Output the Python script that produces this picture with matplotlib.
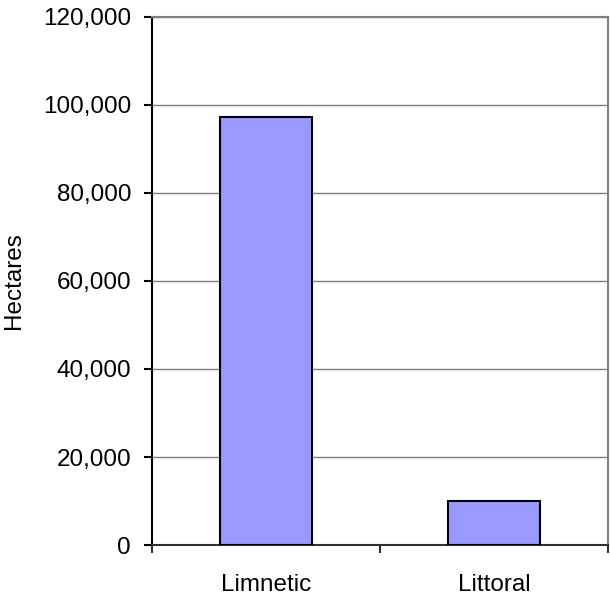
import matplotlib.pyplot as plt
import matplotlib.ticker as ticker

plt.rcParams['font.family'] = ['Liberation Sans', 'DejaVu Sans']

zones = ['Limnetic', 'Littoral']
hectares = [97300, 10100]

fig = plt.figure(figsize=(6.1, 5.97), dpi=100)
ax = fig.add_axes([0.249, 0.087, 0.7477, 0.885])

ax.bar(range(len(zones)), hectares, width=0.405, color='#9999ff',
       edgecolor='black', linewidth=1.5, zorder=3)

ax.set_xlim(-0.5, len(zones) - 0.5)
ax.set_ylim(0, 120000)
ax.yaxis.set_major_locator(ticker.MultipleLocator(20000))
ax.yaxis.set_major_formatter(ticker.StrMethodFormatter('{x:,.0f}'))
ax.grid(axis='y', color='#808080', linewidth=1.0, zorder=0)

ax.set_xticks(range(len(zones)))
ax.set_xticklabels(zones)
ax.set_xticks([-0.5, 0.5, 1.5], minor=True)
ax.tick_params(axis='x', which='major', length=0, pad=21, labelsize=17.5)
ax.tick_params(axis='x', which='minor', length=6, width=1.5, color='#303030')
ax.tick_params(axis='y', length=6, width=1.5, pad=9, labelsize=17.5)

ax.spines['left'].set_color('black')
ax.spines['left'].set_linewidth(1.5)
ax.spines['bottom'].set_color('#303030')
ax.spines['bottom'].set_linewidth(1.5)
for side in ('top', 'right'):
    ax.spines[side].set_color('#808080')
    ax.spines[side].set_linewidth(1.5)

ax.set_ylabel('Hectares', fontsize=17.5)
ax.yaxis.set_label_coords(-0.303, 0.5)
ax.yaxis.label.set_verticalalignment('center')

fig.savefig('out.png', dpi=100)
